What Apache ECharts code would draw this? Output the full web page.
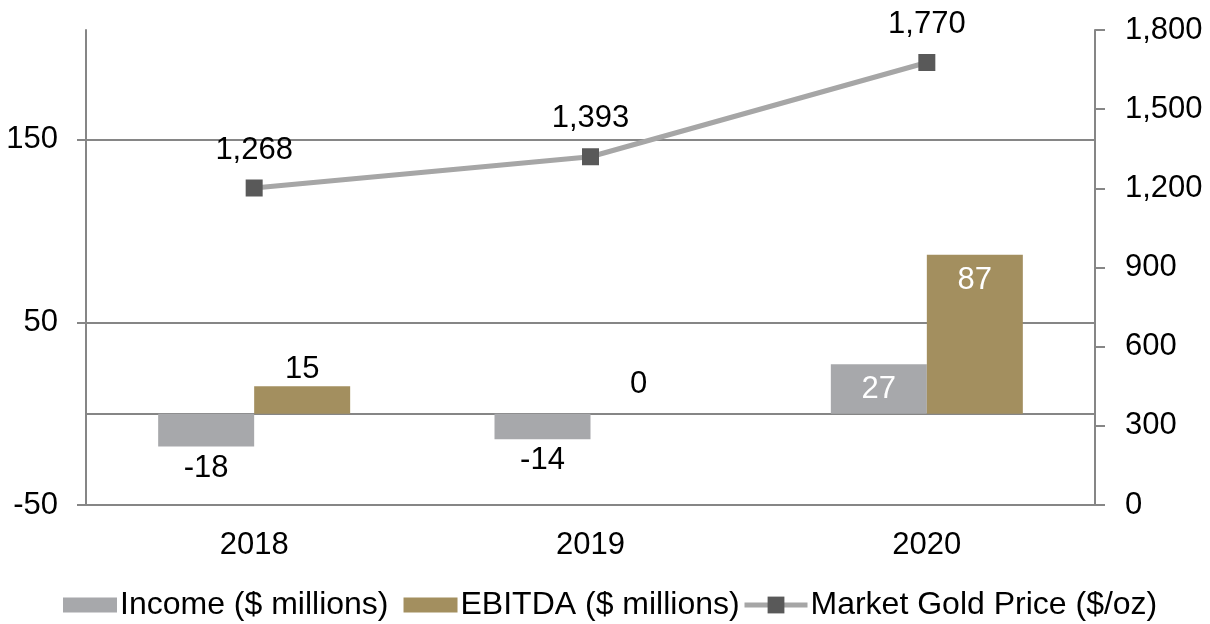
<!DOCTYPE html>
<html>
<head>
<meta charset="utf-8">
<script src="https://cdn.jsdelivr.net/npm/echarts@6/dist/echarts.min.js"></script>
<style>
html,body{margin:0;padding:0;background:#fff;}
#chart{width:1210px;height:624px;}
</style>
</head>
<body>
<div id="chart"></div>
<script>
const categories = ['2018', '2019', '2020'];
const incomeValues = [-18, -14, 27];
const ebitdaValues = [15, 0, 87];
const goldValues = [1268, 1393, 1770];
const leftTicks = [-50, 50, 150];
const seriesNames = ['Income ($ millions)', 'EBITDA ($ millions)', 'Market Gold Price ($/oz)'];

const FONT = 'Liberation Sans, Arial, sans-serif';
const AXIS_COLOR = '#868686';
const FS = 31;
const LEG_FS = 32;
const fmt = v => Number(v).toLocaleString('en-US');

function barItems(values) {
  return values.map(v => {
    let label;
    if (v < 0) {
      label = { position: 'bottom', distance: 6, color: '#000' };
    } else if (v >= 20) {
      label = { position: 'insideTop', distance: 10, color: '#fff' };
    } else if (v === 0) {
      label = { position: 'top', distance: 14, color: '#000' };
    } else {
      label = { position: 'top', distance: 1, color: '#000' };
    }
    return { value: v, label: label };
  });
}

const legendText = { fontSize: LEG_FS, color: '#000', fontFamily: FONT, padding: [0, 0, 0, -2] };

const chart = echarts.init(document.getElementById('chart'), null, { renderer: 'canvas' });
chart.setOption({
  animation: false,
  backgroundColor: '#fff',
  textStyle: { fontFamily: FONT },
  grid: { left: 86, right: 115, top: 30, bottom: 119, containLabel: false },
  legend: [{
    top: 589,
    left: 63,
    padding: 0,
    icon: 'rect',
    itemWidth: 54,
    itemHeight: 15,
    itemGap: 15,
    textStyle: legendText,
    data: [seriesNames[0], seriesNames[1]]
  }, {
    top: 589,
    left: 742,
    padding: 0,
    itemWidth: 63,
    itemHeight: 21,
    textStyle: legendText,
    data: [{ name: seriesNames[2], lineStyle: { width: 5, color: '#A6A6A6' } }]
  }],
  xAxis: [{
    type: 'category',
    data: categories,
    axisLine: { onZero: false, lineStyle: { color: AXIS_COLOR, width: 2 } },
    axisTick: { show: false },
    axisLabel: { fontSize: FS, color: '#000', margin: 25, fontFamily: FONT },
    splitLine: { show: false }
  }, {
    type: 'category',
    data: categories,
    position: 'bottom',
    axisLine: { onZero: true, onZeroAxisIndex: 0, lineStyle: { color: AXIS_COLOR, width: 2 } },
    axisTick: { show: false },
    axisLabel: { show: false },
    splitLine: { show: false }
  }],
  yAxis: [{
    type: 'value',
    position: 'left',
    min: -50,
    max: 210,
    interval: 100,
    axisLine: { show: true, lineStyle: { color: AXIS_COLOR, width: 2 } },
    axisTick: { show: true, inside: false, length: 9, lineStyle: { color: AXIS_COLOR, width: 2 }, customValues: leftTicks },
    axisLabel: { fontSize: FS, color: '#000', margin: 28, customValues: leftTicks, fontFamily: FONT },
    splitLine: { show: true, lineStyle: { color: AXIS_COLOR, width: 2 } }
  }, {
    type: 'value',
    position: 'right',
    min: 0,
    max: 1800,
    interval: 300,
    axisLine: { show: true, lineStyle: { color: AXIS_COLOR, width: 2 } },
    axisTick: { show: true, inside: false, length: 10, lineStyle: { color: AXIS_COLOR, width: 2 } },
    axisLabel: { fontSize: FS, color: '#000', margin: 30, formatter: fmt, fontFamily: FONT },
    splitLine: { show: false }
  }, {
    type: 'value',
    position: 'right',
    show: false,
    min: 0,
    max: 1900,
    splitLine: { show: false }
  }],
  series: [{
    name: seriesNames[0],
    type: 'bar',
    xAxisIndex: 0,
    yAxisIndex: 0,
    barWidth: 96,
    barGap: '0%',
    itemStyle: { color: '#A7A8AB' },
    label: { show: true, fontSize: FS, fontFamily: FONT },
    data: barItems(incomeValues),
    z: 2
  }, {
    name: seriesNames[1],
    type: 'bar',
    xAxisIndex: 0,
    yAxisIndex: 0,
    barWidth: 96,
    barGap: '0%',
    itemStyle: { color: '#A38F5F' },
    label: { show: true, fontSize: FS, fontFamily: FONT },
    data: barItems(ebitdaValues),
    z: 2
  }, {
    name: seriesNames[2],
    type: 'line',
    xAxisIndex: 0,
    yAxisIndex: 2,
    data: goldValues,
    symbol: 'rect',
    symbolSize: 17,
    lineStyle: { color: '#A6A6A6', width: 5 },
    itemStyle: { color: '#595959' },
    label: { show: true, position: 'top', distance: 14, fontSize: FS, color: '#000', fontFamily: FONT, formatter: p => fmt(p.value) },
    z: 5
  }]
});
</script>
</body>
</html>
